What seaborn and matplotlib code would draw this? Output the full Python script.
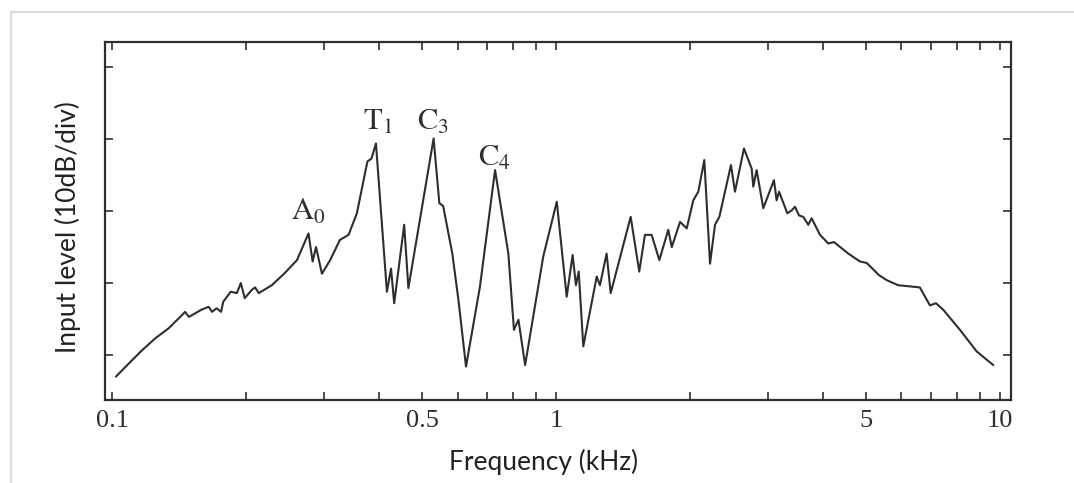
import numpy as np
import pandas as pd
import matplotlib
matplotlib.use("Agg")
import matplotlib.pyplot as plt
from matplotlib.lines import Line2D
from matplotlib.ticker import FixedLocator, NullFormatter
import seaborn as sns

# ------------------------------------------------------------
# Data (frequency in kHz, level in dB)
# ------------------------------------------------------------
freq_khz = [
    0.102, 0.109, 0.117, 0.125, 0.134, 0.144, 0.146, 0.149, 0.159, 0.165,
    0.168, 0.172, 0.176, 0.178, 0.185, 0.191, 0.195, 0.199, 0.206, 0.210,
    0.214, 0.229, 0.245, 0.261, 0.277, 0.283, 0.288, 0.297, 0.310, 0.326,
    0.341, 0.356, 0.376, 0.384, 0.393, 0.416, 0.425, 0.432, 0.455, 0.465,
    0.530, 0.546, 0.557, 0.584, 0.603, 0.627, 0.674, 0.729, 0.781, 0.804,
    0.823, 0.852, 0.936, 1.004, 1.057, 1.090, 1.109, 1.125, 1.152, 1.235,
    1.256, 1.300, 1.328, 1.473, 1.540, 1.586, 1.642, 1.709, 1.790, 1.823,
    1.903, 1.970, 2.038, 2.092, 2.158, 2.223, 2.281, 2.333, 2.478, 2.530,
    2.651, 2.759, 2.782, 2.831, 2.930, 3.097, 3.140, 3.180, 3.319, 3.396,
    3.454, 3.526, 3.606, 3.700, 3.766, 3.932, 4.106, 4.228, 4.553, 4.838,
    5.010, 5.340, 5.560, 5.900, 6.600, 6.955, 7.176, 7.450, 8.127, 8.862,
    9.660,
]
level_db = [
    -3.0, -1.2, 0.7, 2.3, 3.7, 5.6, 6.0, 5.3, 6.3, 6.7,
    6.0, 6.5, 6.0, 7.4, 8.8, 8.6, 10.0, 7.9, 9.0, 9.4,
    8.6, 9.7, 11.4, 13.2, 16.9, 13.0, 15.0, 11.3, 13.2, 16.0,
    16.7, 19.7, 26.9, 27.3, 29.4, 8.8, 12.0, 7.2, 18.1, 9.3,
    30.1, 21.1, 20.7, 14.1, 7.6, -1.6, 9.5, 25.7, 14.1, 3.5,
    4.9, -1.4, 13.7, 21.3, 8.1, 13.9, 9.7, 11.6, 1.2, 10.9,
    9.7, 14.1, 8.6, 19.2, 11.6, 16.7, 16.7, 13.2, 17.4, 15.0,
    18.5, 17.6, 21.5, 22.7, 27.1, 12.7, 18.1, 19.2, 26.4, 22.7,
    28.7, 25.9, 23.4, 25.7, 20.4, 24.3, 21.5, 22.7, 19.7, 20.1,
    20.6, 19.4, 19.2, 18.1, 19.0, 16.7, 15.5, 15.7, 14.1, 13.0,
    12.8, 11.1, 10.4, 9.7, 9.4, 6.9, 7.2, 6.3, 3.5, 0.5,
    -1.4,
]

# mode labels and where they sit
mode_labels = [r"$\mathrm{A_0}$", r"$\mathrm{T_1}$", r"$\mathrm{C_3}$", r"$\mathrm{C_4}$"]
mode_freq = [0.277, 0.397, 0.528, 0.725]
mode_level = [20.0, 32.5, 32.5, 27.5]

xtick_vals = [0.1, 0.5, 1, 5, 10]
xtick_text = ["0.1", "0.5", "1", "5", "10"]
xminor_vals = [0.2, 0.3, 0.4, 0.6, 0.7, 0.8, 0.9, 2, 3, 4, 6, 7, 8, 9]
ytick_vals = [0, 10, 20, 30, 40]

df = pd.DataFrame({"freq": freq_khz, "level": level_db})

# ------------------------------------------------------------
# Figure
# ------------------------------------------------------------
sns.set_style("white")
plt.rcParams["mathtext.fontset"] = "stix"
plt.rcParams["font.family"] = ["DejaVu Sans"]

W, H = 1074, 483
fig = plt.figure(figsize=(W / 100, H / 100), dpi=100)
ax = fig.add_axes([105 / W, (H - 400) / H, (1011 - 105) / W, (400 - 42) / H])

ink = "#2e2e2e"
sns.lineplot(data=df, x="freq", y="level", ax=ax, color=ink, linewidth=1.5,
             estimator=None, sort=False)

ax.set_xscale("log")
ax.set_xlim(0.0964, 10.59)
ax.set_ylim(-6.25, 43.5)

ax.xaxis.set_major_locator(FixedLocator(xtick_vals))
ax.set_xticklabels(xtick_text, family="Liberation Serif", fontsize=19, color=ink)
ax.xaxis.set_minor_locator(FixedLocator(xminor_vals))
ax.xaxis.set_minor_formatter(NullFormatter())
ax.set_yticks(ytick_vals)
ax.set_yticklabels([])

ax.tick_params(axis="x", which="both", direction="in", top=True, bottom=True,
               length=6, width=1.2, color=ink, pad=7)
ax.tick_params(axis="y", which="both", direction="in", left=True, right=True,
               length=6, width=1.2, color=ink)

for sp in ax.spines.values():
    sp.set_visible(True)
    sp.set_color(ink)
    sp.set_linewidth(1.6)

ax.set_xlabel("Frequency (kHz)", family="Lato", fontsize=19, color="#222222", va="center")
ax.xaxis.set_label_coords((544 - 105) / 906, (400 - 462) / 358)
ax.set_ylabel("Input level (10dB/div)", family="Lato", fontsize=19, color="#222222", va="center")
ax.yaxis.set_label_coords((68 - 105) / 906, (400 - 227) / 358)

for lab, fx, ly in zip(mode_labels, mode_freq, mode_level):
    ax.text(fx, ly, lab, ha="center", va="center", fontsize=22, color=ink)

# light frame of the original screenshot
fig.add_artist(Line2D([11 / W, 11 / W], [0, 1 - 12 / H], transform=fig.transFigure,
                      color="#d9d9d9", linewidth=1.5))
fig.add_artist(Line2D([11 / W, 1], [1 - 12 / H, 1 - 12 / H], transform=fig.transFigure,
                      color="#d9d9d9", linewidth=1.5))

fig.savefig("out.png", dpi=100)
